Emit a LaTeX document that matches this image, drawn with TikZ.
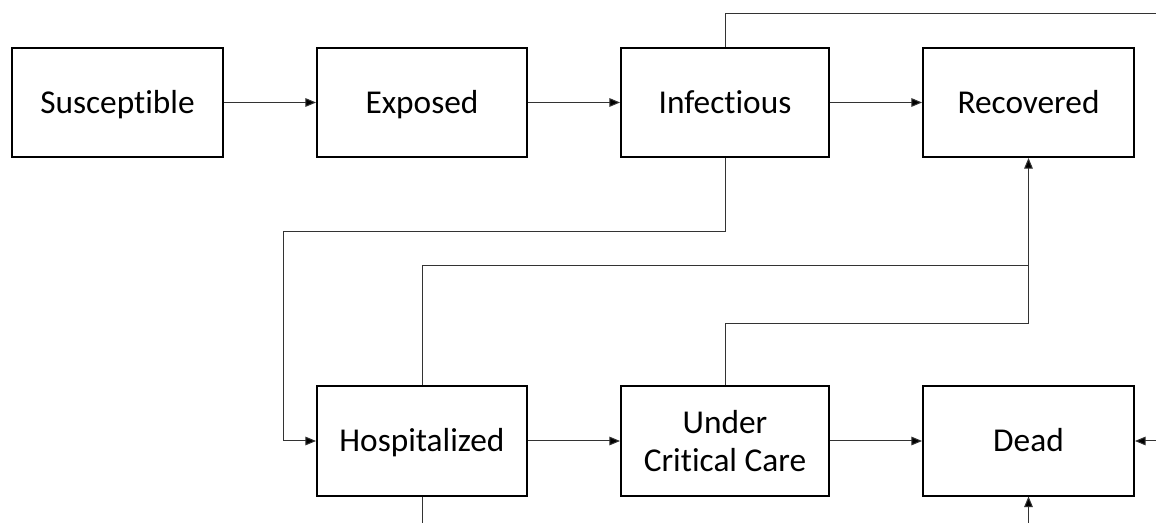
\documentclass[tikz,border=0pt]{standalone}
\usepackage{fontspec}
\setmainfont[RawFeature={-liga}]{Carlito}
\usetikzlibrary{arrows.meta}
\begin{document}
\begin{tikzpicture}[x=0.75pt,y=-0.75pt,
  box/.style={draw=black,line width=1.5pt,fill=white,minimum height=109*0.75pt,align=center,
    font=\fontsize{25}{29}\selectfont,inner sep=0pt},
  oneline/.style={text height=19.5pt,text depth=3.5pt},
  conn/.style={draw=black!80,line width=0.75pt},
  arr/.style={conn,-{Triangle[length=8pt,width=6.5pt,fill=black]}}]
\useasboundingbox (0,0) rectangle (1156,523);
\node[box,oneline,minimum width=211*0.75pt] (S) at (117.5,102.5) {Susceptible};
\node[box,oneline,minimum width=210*0.75pt] (E) at (422,102.5) {Exposed};
\node[box,oneline,minimum width=208*0.75pt] (I) at (725,102.5) {Infectious};
\node[box,oneline,minimum width=211*0.75pt] (R) at (1028.5,102.5) {Recovered};
\node[box,oneline,minimum width=210*0.75pt] (H) at (422,441) {Hospitalized};
\node[box,minimum width=208*0.75pt] (U) at (725,441) {Under\\Critical Care};
\node[box,oneline,minimum width=211*0.75pt] (D) at (1028.5,441) {Dead};
\coordinate (topR) at (1156,14);
\coordinate (rightD) at (1156,441);
\coordinate (botH) at (422,523);
\coordinate (botD) at (1028.5,523);
\coordinate (j1) at (725,232);
\coordinate (j2) at (283,441);
\coordinate (j3) at (1028.5,266);
\coordinate (j4) at (1028.5,324);
\draw[arr] (S.east) -- (E.west);
\draw[arr] (E.east) -- (I.west);
\draw[arr] (I.east) -- (R.west);
\draw[arr] (H.east) -- (U.west);
\draw[arr] (U.east) -- (D.west);
\draw[conn] (I.north) |- (topR);
\draw[arr] (rightD) -- (D.east);
\draw[conn] (H.south) -- (botH);
\draw[arr] (botD) -- (D.south);
\draw[arr] (I.south) -- (j1) -| (j2) -- (H.west);
\draw[conn] (H.north) |- (j3);
\draw[conn] (U.north) |- (j4) -- (j3);
\draw[arr] (j3) -- (R.south);
\end{tikzpicture}
\end{document}
